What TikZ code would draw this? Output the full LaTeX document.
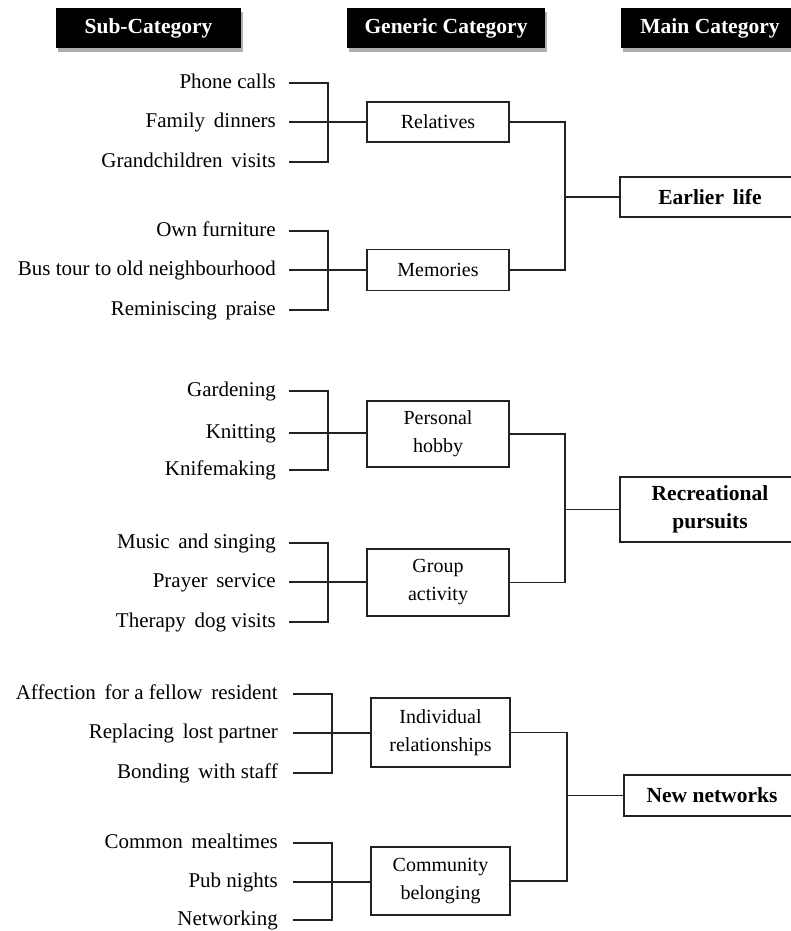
\documentclass[tikz,border=0pt]{standalone}
\usepackage{fontspec}
\setmainfont{Liberation Serif}
\usetikzlibrary{shadows}
\definecolor{ink}{HTML}{222222}
\begin{document}
\begin{tikzpicture}[x=1pt,y=-1pt,
  subitem/.style={anchor=east, inner sep=0pt, text height=16pt, text depth=5pt, text=black,
    font=\fontsize{21}{25}\selectfont},
  genbox/.style={draw=ink, line width=1.8pt, minimum width=142pt, minimum height=40pt,
    align=center, inner sep=2pt, text=black, font=\fontsize{20}{28}\selectfont},
  mainbox/.style={draw=ink, line width=1.8pt, minimum width=180pt, minimum height=40pt,
    align=center, inner sep=2pt, text=black, font=\bfseries\fontsize{21.5}{28}\selectfont},
  headbox/.style={fill=black, text=white, minimum height=40pt, inner sep=0pt,
    font=\bfseries\fontsize{21.5}{24}\selectfont,
    drop shadow={shadow xshift=2pt, shadow yshift=-4pt, fill=black!45, opacity=0.7}},
  conn/.style={draw=ink, line width=1.8pt}]
\useasboundingbox (0,0) rectangle (791,931);

% headers
\node[headbox, minimum width=185pt] (hsub) at (148.5,28) {Sub-Category};
\node[headbox, minimum width=198pt] (hgen) at (446,28) {Generic Category};
\node[headbox, minimum width=178pt] (hmain) at (710,28) {Main Category};

% ---------- Earlier life ----------
\node[subitem] (s11) at (276,83) {Phone calls};
\node[subitem] (s12) at (276,122) {Family\, dinners};
\node[subitem] (s13) at (276,162) {Grandchildren\, visits};
\node[genbox] (g1) at (438,122) {Relatives};
\coordinate (j1) at (328,122);

\node[subitem] (s21) at (276,231) {Own furniture};
\node[subitem] (s22) at (276,270) {Bus tour to old neighbourhood};
\node[subitem] (s23) at (276,310) {Reminiscing\, praise};
\node[genbox, minimum height=41pt] (g2) at (438,270) {Memories};
\coordinate (j2) at (328,270);

\node[mainbox] (m1) at (710,197) {Earlier\, life};
\coordinate (c1) at (565,197);

% ---------- Recreational pursuits ----------
\node[subitem] (s31) at (276,391) {Gardening};
\node[subitem] (s32) at (276,433) {Knitting};
\node[subitem] (s33) at (276,470) {Knifemaking};
\node[genbox, minimum height=66pt] (g3) at (438,434) {Personal\\hobby};
\coordinate (j3) at (328,433);

\node[subitem] (s41) at (276,543) {Music\, and singing};
\node[subitem] (s42) at (276,582) {Prayer\, service};
\node[subitem] (s43) at (276,622) {Therapy\, dog visits};
\node[genbox, minimum height=67pt] (g4) at (438,582.5) {Group\\activity};
\coordinate (j4) at (328,582);

\node[mainbox, minimum height=65pt] (m2) at (710,509.5) {Recreational\\pursuits};
\coordinate (c2) at (565,509.5);

% ---------- New networks ----------
\node[subitem] (s51) at (278,694) {Affection\, for a fellow\, resident};
\node[subitem] (s52) at (278,733) {Replacing\, lost partner};
\node[subitem] (s53) at (278,773) {Bonding\, with staff};
\node[genbox, minimum width=139pt, minimum height=69pt] (g5) at (440.5,732.5) {Individual\\relationships};
\coordinate (j5) at (332,733);

\node[subitem] (s61) at (278,843) {Common\, mealtimes};
\node[subitem] (s62) at (278,882) {Pub nights};
\node[subitem] (s63) at (278,920) {Networking};
\node[genbox, minimum width=139pt, minimum height=68pt] (g6) at (440.5,881) {Community\\belonging};
\coordinate (j6) at (332,882);

\node[mainbox, minimum width=176pt, minimum height=41pt] (m3) at (712,795.5) {New networks};
\coordinate (c3) at (567,795.5);

% ---------- connectors: sub-items to generic ----------
\draw[conn] ([xshift=13pt]s11.east) -| (j1) |- ([xshift=13pt]s13.east);
\draw[conn] ([xshift=13pt]s12.east) -- (g1.west |- s12.east);
\draw[conn] ([xshift=13pt]s21.east) -| (j2) |- ([xshift=13pt]s23.east);
\draw[conn] ([xshift=13pt]s22.east) -- (g2.west |- s22.east);
\draw[conn] ([xshift=13pt]s31.east) -| (j3) |- ([xshift=13pt]s33.east);
\draw[conn] ([xshift=13pt]s32.east) -- (g3.west |- s32.east);
\draw[conn] ([xshift=13pt]s41.east) -| (j4) |- ([xshift=13pt]s43.east);
\draw[conn] ([xshift=13pt]s42.east) -- (g4.west |- s42.east);
\draw[conn] ([xshift=15pt]s51.east) -| (j5) |- ([xshift=15pt]s53.east);
\draw[conn] ([xshift=15pt]s52.east) -- (g5.west |- s52.east);
\draw[conn] ([xshift=15pt]s61.east) -| (j6) |- ([xshift=15pt]s63.east);
\draw[conn] ([xshift=15pt]s62.east) -- (g6.west |- s62.east);

% ---------- connectors: generic to main ----------
\draw[conn] (g1.east) -| (c1) |- (g2.east);
\draw[conn] (c1) -- (m1.west);
\draw[conn] (g3.east) -| (c2) |- (g4.east);
\draw[conn] (c2) -- (m2.west);
\draw[conn] (g5.east) -| (c3) |- (g6.east);
\draw[conn] (c3) -- (m3.west);
\end{tikzpicture}
\end{document}
